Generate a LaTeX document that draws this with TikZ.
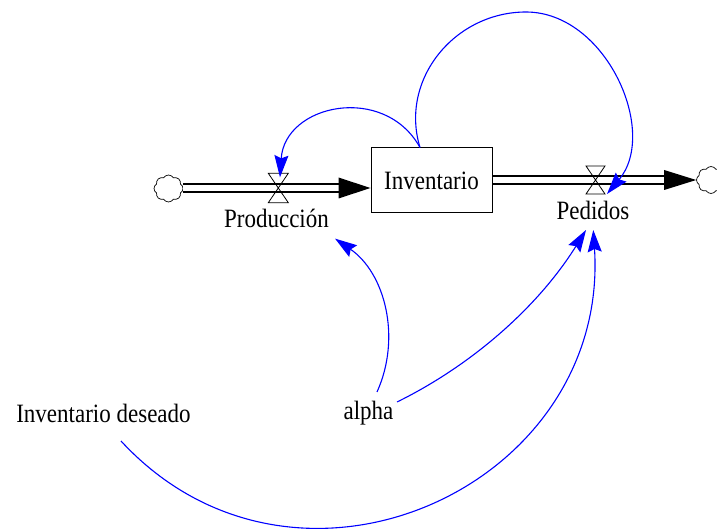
\documentclass[tikz,border=0pt]{standalone}
\usepackage{fontspec}
\usepackage{graphicx}
\setmainfont{Liberation Serif}
\usetikzlibrary{arrows.meta,shapes.symbols}
\newcommand{\talltext}[1]{\scalebox{1}[1.15]{#1}}
\begin{document}
\begin{tikzpicture}[x=1pt,y=-1pt,
  lbl/.style={anchor=base, inner sep=0pt, font=\fontsize{23}{27}\selectfont},
  stockbox/.style={draw, line width=1pt, minimum width=121pt, minimum height=65pt, inner sep=0pt, font=\fontsize{23}{27}\selectfont},
  pipe/.style={draw=black, line width=1.6pt, double=white, double distance=6pt},
  valvesh/.style={draw=black, line width=0.8pt},
  flowhead/.style={fill=black},
  cloudsh/.style={cloud, cloud puffs=8, cloud puff arc=120, aspect=1.1, draw, line width=0.7pt, minimum width=29pt, minimum height=27pt, inner sep=0pt},
  link/.style={draw=blue, line width=1.1pt, -{Stealth[length=22pt,width=14pt,inset=3pt]}}
]
\useasboundingbox (0,0) rectangle (717,529);
\clip (0,0) rectangle (717,529);

% stock
\node[stockbox] (inv) at (431.5,180.5) {\talltext{Inventario}};

% valves and clouds
\coordinate (pv) at (278.3,188);
\coordinate (dv) at (595.5,180);
\node[cloudsh] (c1) at (168.5,188.5) {};
\node[cloudsh] (c2) at (711,180) {};

% pipes
\coordinate (ltip) at (inv.west |- pv);
\coordinate (lbase) at ([xshift=-32pt]ltip);
\coordinate (rtip) at (c2.west |- dv);
\coordinate (rbase) at ([xshift=-32pt]rtip);
\draw[pipe] (c1.east |- pv) -- (lbase);
\draw[pipe] (inv.east |- dv) -- (rbase);
\fill[flowhead] (ltip) -- ([yshift=10.5pt]lbase) -- ([yshift=-10.5pt]lbase) -- cycle;
\fill[flowhead] (rtip) -- ([yshift=10pt]rbase) -- ([yshift=-10pt]rbase) -- cycle;

% valve hourglasses
\draw[valvesh] (pv) -- ++(-10,-14.7) -- ++(20,0) -- cycle;
\draw[valvesh] (pv) -- ++(-10,14.7) -- ++(20,0) -- cycle;
\draw[valvesh] (dv) -- ++(-9.5,-14) -- ++(19,0) -- cycle;
\draw[valvesh] (dv) -- ++(-9.5,14) -- ++(19,0) -- cycle;

% labels
\node[lbl] (prd) at (276.5,227.3) {\talltext{Producción}};
\node[lbl] (ped) at (593,220) {\talltext{Pedidos}};
\node[lbl] (id) at (103.5,422) {\talltext{Inventario deseado}};
\node[lbl] (al) at (368.5,419) {\talltext{alpha}};

% links
\coordinate (looptop) at (526,12);
\draw[link] ([xshift=-11.5pt]inv.north) .. controls +(-35.6,-64.3) and +(4.7,-73.3) .. ([shift={(1.7,-10.7)}]pv);
\draw[link] ([xshift=-11.5pt]inv.north) .. controls +(-20.8,-68.1) and +(-71.2,0) .. (looptop) .. controls +(80,0) and +(52,-62) .. ([shift={(11.5,14)}]dv);
\draw[link] ([shift={(8.5,-27)}]al.base) .. controls +(24.8,-55) and +(49.7,34.2) .. ([shift={(58.5,11.3)}]prd.base);
\draw[link] ([shift={(28.5,-17)}]al.base) .. controls +(78.1,-38.4) and +(-45.9,73.9) .. ([shift={(-7,10)}]ped.base);
\draw[link] ([shift={(17.5,19)}]id.base) .. controls +(174.8,189.4) and +(16.5,257.2) .. ([shift={(0.3,10)}]ped.base);
\end{tikzpicture}
\end{document}
